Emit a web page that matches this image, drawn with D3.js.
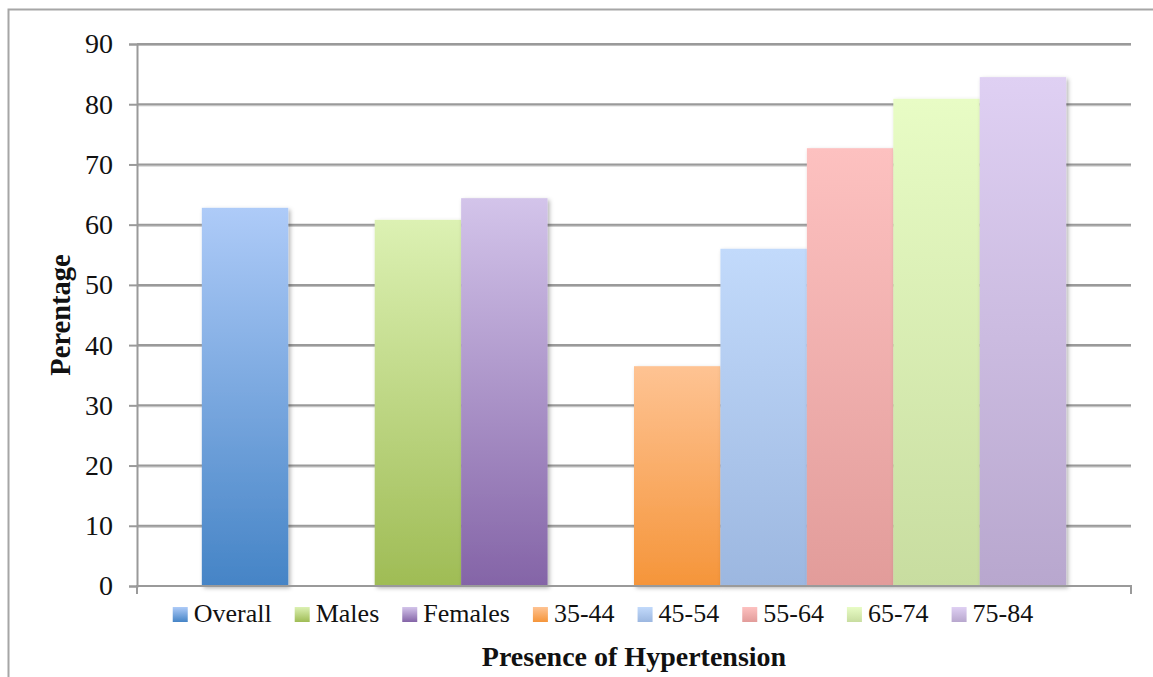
<!DOCTYPE html>
<html>
<head>
<meta charset="utf-8">
<script src="https://cdn.jsdelivr.net/npm/d3@7"></script>
<style>
  body { margin: 0; background: #fff; }
  text { font-family: "Liberation Serif", "DejaVu Serif", serif; fill: #111; }
</style>
</head>
<body>
<svg id="chart" width="1153" height="677"></svg>
<script>
// series (bar order, null = empty slot as in the original)
const slots = ["Overall", null, "Males", "Females", null, "35-44", "45-54", "55-64", "65-74", "75-84"];
const seriesNames = ["Overall", "Males", "Females", "35-44", "45-54", "55-64", "65-74", "75-84"];
const seriesValues = [62.8, 60.8, 64.4, 36.5, 56.0, 72.7, 80.9, 84.5];
const colorTop = ["#aecbf8", "#dcf1b3", "#d3c4ea", "#fec393", "#c2dafb", "#fdc1c0", "#e8fcc5", "#dfd0f3"];
const colorBottom = ["#4584c6", "#9fbc55", "#8464a7", "#f5953a", "#9cb7e0", "#e29c9a", "#c8dda0", "#b8a7ce"];
const yTicks = [0, 10, 20, 30, 40, 50, 60, 70, 80, 90];

const data = seriesNames.map((n, i) => ({ name: n, value: seriesValues[i], i: i }));

const svg = d3.select("#chart"),
      margin = {top: 44, right: 22, bottom: 91, left: 137},
      width = +svg.attr("width") - margin.left - margin.right,
      height = +svg.attr("height") - margin.top - margin.bottom;

// outer frame (only top and left visible)
svg.append("path")
   .attr("d", "M8.5,677 V9.5 H1153")
   .attr("fill", "none")
   .attr("stroke", "#a6a6a6")
   .attr("stroke-width", 2);

const defs = svg.append("defs");
data.forEach(d => {
  const g = defs.append("linearGradient")
    .attr("id", "grad" + d.i)
    .attr("x1", 0).attr("y1", 0).attr("x2", 0).attr("y2", 1);
  g.append("stop").attr("offset", "0%").attr("stop-color", colorTop[d.i]);
  g.append("stop").attr("offset", "100%").attr("stop-color", colorBottom[d.i]);
});
const f = defs.append("filter").attr("id", "shadow")
  .attr("x", "-10%").attr("y", "-10%").attr("width", "130%").attr("height", "130%");
f.append("feDropShadow").attr("dx", 2).attr("dy", 2).attr("stdDeviation", 2)
  .attr("flood-color", "#000").attr("flood-opacity", 0.3);
const gf = defs.append("filter").attr("id", "gshadow")
  .attr("x", "-1%").attr("y", "-100%").attr("width", "102%").attr("height", "400%");
gf.append("feDropShadow").attr("dx", 0).attr("dy", 1).attr("stdDeviation", 0.6)
  .attr("flood-color", "#000").attr("flood-opacity", 0.25);

const g = svg.append("g")
  .attr("transform", `translate(${margin.left},${margin.top})`);

const x = d3.scaleBand()
  .domain(d3.range(slots.length))
  .range([0, width])
  .paddingInner(0)
  .paddingOuter(0.75);

const y = d3.scaleLinear()
  .domain([0, 90])
  .range([height, 0]);

// gridlines
g.append("g")
  .attr("filter", "url(#gshadow)")
  .selectAll("line")
  .data(yTicks.filter(t => t > 0))
  .enter().append("line")
    .attr("x1", 0).attr("x2", width)
    .attr("y1", d => y(d)).attr("y2", d => y(d))
    .attr("stroke", "#9a9a9a")
    .attr("stroke-width", 2);

// y axis
const yAxis = g.append("g")
  .call(d3.axisLeft(y).tickValues(yTicks).tickSize(8).tickPadding(16));
yAxis.select(".domain").attr("stroke", "#9a9a9a").attr("stroke-width", 2);
yAxis.selectAll(".tick line").attr("stroke", "#9a9a9a").attr("stroke-width", 2);
yAxis.selectAll(".tick text")
  .style("font-size", "28px")
  .style("font-family", "'Liberation Serif', serif");

// bars
g.selectAll("rect.bar")
  .data(data)
  .enter().append("rect")
    .attr("class", "bar")
    .attr("x", d => x(slots.indexOf(d.name)))
    .attr("y", d => y(d.value))
    .attr("width", x.bandwidth())
    .attr("height", d => height - y(d.value))
    .attr("fill", d => `url(#grad${d.i})`)
    .attr("filter", "url(#shadow)");

// x axis line with end ticks
g.append("path")
  .attr("d", `M0,${height + 8} V${height} H${width} V${height + 8}`)
  .attr("fill", "none")
  .attr("stroke", "#9a9a9a")
  .attr("stroke-width", 2);

// legend
const legend = svg.append("g");
let lx = 0;
data.forEach(d => {
  const it = legend.append("g");
  it.append("rect")
    .attr("x", 0).attr("y", -15)
    .attr("width", 15).attr("height", 15)
    .attr("fill", `url(#grad${d.i})`);
  const t = it.append("text")
    .attr("x", 21).attr("y", 0)
    .style("font-size", "26px")
    .text(d.name);
  const w = t.node().getComputedTextLength();
  it.attr("transform", `translate(${lx},0)`);
  lx += 21 + w + 23;
});
const legendW = lx - 23;
legend.attr("transform", `translate(${603 - legendW / 2},622)`);

// x title
svg.append("text")
  .attr("x", margin.left + width / 2)
  .attr("y", 666)
  .attr("text-anchor", "middle")
  .style("font-size", "28px")
  .style("font-weight", "bold")
  .text("Presence of Hypertension");

// y title
svg.append("text")
  .attr("transform", `translate(70,${margin.top + height / 2}) rotate(-90)`)
  .attr("text-anchor", "middle")
  .style("font-size", "28.5px")
  .style("font-weight", "bold")
  .text("Perentage");
</script>
</body>
</html>
